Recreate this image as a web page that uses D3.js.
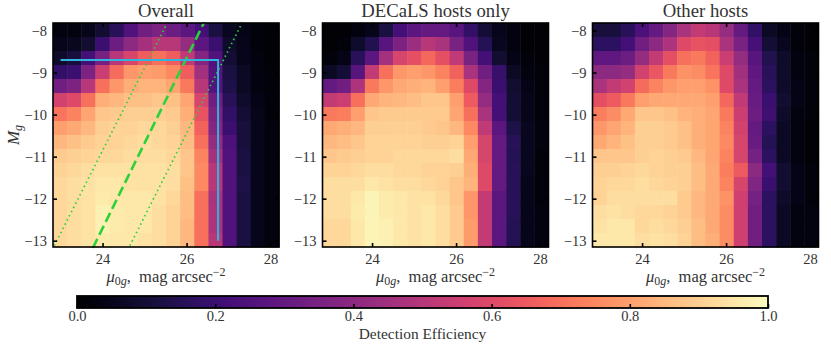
<!DOCTYPE html>
<html>
<head>
<meta charset="utf-8">
<style>
  html, body { margin: 0; padding: 0; background: #fff; }
  text { font-family: "Liberation Serif", serif; fill: #333; }
</style>
<script src="https://cdn.jsdelivr.net/npm/d3@7"></script>
</head>
<body>
<svg id="chart" width="831" height="346"></svg>
<script>
// bin labels: surface brightness columns, magnitude rows (top row first)
var muBins = ["22.97","23.31","23.64","23.98","24.32","24.66","24.99","25.33","25.67","26.01","26.34","26.68","27.02","27.36","27.69","28.03"];
var magBins = ["-7.97","-8.31","-8.64","-8.98","-9.32","-9.66","-9.99","-10.33","-10.67","-11.01","-11.34","-11.68","-12.02","-12.36","-12.69","-13.03"];

var overall = [
  [.03,.03,.05,.09,.16,.25,.33,.36,.32,.28,.22,.12,.06,.04,.02,.01],
  [.05,.06,.09,.2,.32,.4,.46,.5,.5,.42,.28,.2,.08,.05,.02,.01],
  [.08,.11,.22,.34,.5,.58,.66,.7,.66,.52,.38,.25,.1,.05,.03,.01],
  [.18,.2,.36,.55,.69,.78,.8,.79,.75,.66,.45,.26,.12,.07,.03,.02],
  [.33,.36,.5,.7,.78,.83,.84,.84,.81,.72,.5,.26,.13,.07,.03,.02],
  [.57,.6,.7,.83,.85,.87,.87,.88,.87,.81,.58,.33,.16,.08,.04,.02],
  [.71,.74,.81,.88,.89,.9,.9,.9,.89,.83,.63,.36,.18,.1,.05,.02],
  [.8,.82,.85,.9,.91,.91,.92,.92,.9,.85,.67,.38,.2,.11,.05,.03],
  [.85,.87,.89,.91,.91,.92,.93,.92,.91,.86,.7,.42,.24,.11,.05,.03],
  [.89,.9,.91,.92,.92,.93,.93,.93,.92,.88,.74,.46,.25,.12,.05,.03],
  [.91,.92,.93,.94,.94,.94,.94,.94,.93,.88,.75,.5,.25,.12,.05,.03],
  [.92,.93,.94,.95,.95,.94,.94,.94,.93,.87,.75,.5,.25,.13,.05,.03],
  [.92,.93,.94,.96,.95,.95,.95,.94,.92,.86,.7,.47,.25,.12,.05,.03],
  [.92,.93,.94,.97,.96,.95,.95,.93,.91,.86,.7,.48,.25,.12,.05,.03],
  [.92,.93,.94,.97,.96,.95,.95,.93,.91,.85,.7,.48,.25,.12,.05,.03],
  [.92,.93,.94,.96,.95,.95,.94,.93,.91,.85,.7,.5,.25,.12,.05,.03]
];

var decals = [
  [.01,.01,.03,.05,.12,.22,.28,.3,.3,.27,.18,.1,.05,.03,.01,.01],
  [.01,.02,.08,.14,.27,.36,.44,.5,.47,.35,.25,.15,.06,.03,.01,.01],
  [.02,.04,.16,.28,.46,.58,.62,.68,.62,.52,.35,.22,.09,.04,.02,.01],
  [.07,.1,.27,.53,.7,.78,.8,.78,.74,.67,.47,.33,.19,.07,.03,.02],
  [.3,.33,.48,.72,.78,.82,.83,.84,.8,.73,.6,.38,.2,.09,.04,.02],
  [.53,.55,.7,.82,.84,.85,.86,.88,.88,.8,.65,.42,.22,.1,.05,.02],
  [.72,.73,.8,.88,.89,.89,.89,.89,.89,.81,.7,.47,.22,.1,.05,.02],
  [.82,.83,.85,.9,.9,.9,.9,.89,.88,.85,.75,.52,.28,.13,.06,.03],
  [.85,.86,.88,.91,.91,.91,.91,.9,.9,.91,.8,.58,.3,.16,.06,.03],
  [.88,.89,.9,.91,.91,.92,.92,.92,.92,.93,.82,.58,.3,.15,.06,.02],
  [.91,.91,.92,.93,.93,.92,.92,.91,.91,.9,.83,.6,.3,.16,.06,.02],
  [.93,.93,.93,.95,.94,.93,.93,.92,.91,.88,.84,.6,.3,.16,.05,.02],
  [.93,.93,.95,.98,.96,.95,.94,.94,.92,.88,.78,.53,.28,.16,.05,.02],
  [.93,.93,.96,.98,.96,.95,.94,.95,.93,.89,.78,.53,.28,.16,.05,.03],
  [.92,.92,.95,.98,.97,.95,.94,.95,.93,.89,.79,.53,.28,.15,.05,.03],
  [.92,.92,.95,.98,.97,.95,.94,.95,.93,.89,.79,.53,.28,.15,.05,.03]
];

var others = [
  [.11,.11,.16,.24,.3,.38,.47,.53,.5,.42,.3,.18,.07,.04,.02,.01],
  [.17,.17,.22,.33,.4,.48,.6,.63,.62,.47,.35,.23,.1,.06,.02,.01],
  [.29,.29,.32,.42,.53,.62,.7,.72,.67,.55,.42,.27,.14,.08,.03,.02],
  [.4,.4,.42,.57,.64,.72,.77,.76,.71,.6,.45,.29,.16,.08,.03,.02],
  [.47,.53,.57,.69,.74,.78,.8,.8,.77,.6,.47,.3,.17,.08,.04,.02],
  [.62,.65,.72,.8,.82,.82,.82,.82,.8,.68,.52,.31,.2,.09,.04,.02],
  [.73,.76,.82,.88,.88,.87,.84,.83,.81,.72,.55,.32,.21,.08,.03,.02],
  [.78,.81,.84,.9,.9,.89,.87,.83,.81,.74,.57,.3,.17,.07,.03,.01],
  [.82,.84,.87,.9,.9,.89,.87,.83,.81,.75,.58,.31,.15,.07,.03,.01],
  [.88,.88,.88,.9,.91,.9,.89,.85,.81,.74,.58,.34,.17,.07,.03,.01],
  [.9,.9,.91,.92,.91,.9,.9,.86,.82,.73,.65,.4,.22,.09,.04,.02],
  [.91,.92,.92,.93,.92,.91,.9,.86,.82,.74,.58,.37,.2,.09,.04,.02],
  [.91,.93,.93,.93,.93,.93,.89,.85,.82,.77,.56,.34,.17,.08,.04,.02],
  [.93,.94,.93,.92,.92,.91,.89,.85,.82,.76,.56,.33,.17,.07,.03,.03],
  [.94,.95,.95,.92,.93,.92,.9,.86,.82,.76,.56,.33,.17,.07,.03,.03],
  [.95,.95,.95,.93,.94,.93,.91,.86,.83,.76,.56,.33,.17,.07,.03,.03]
];

var titles = ["Overall", "DECaLS hosts only", "Other hosts"];
var panelValues = [overall, decals, others];
var muTicks = [24, 26, 28];
var magTicks = [-8, -9, -10, -11, -12, -13];
var cbarTicks = [0, 0.2, 0.4, 0.6, 0.8, 1];

// overlay lines on the first panel, in data units [mu, Mg]
var completeness = [[23, -8.7], [26.75, -8.7], [26.75, -13]];
var sizeMid = [[23.77, -13.17], [26.42, -7.8]];
var sizeLow = [[22.85, -13.12], [25.55, -7.8]];
var sizeHigh = [[24.65, -13.12], [27.33, -7.8]];

var panelLeft = [53, 322.5, 592.5];
var panelW = 226, panelH = 224, panelTop = 23;

var svg = d3.select("#chart");
var color = d3.scaleSequential(d3.interpolateMagma).domain([0, 1]);

function drawLabel(g, cx, y) {
  var t = g.append("text").attr("x", cx).attr("y", y)
    .attr("text-anchor", "middle").style("font-size", "16.5px");
  t.append("tspan").style("font-style", "italic").text("\u03bc");
  t.append("tspan").attr("dy", 3).style("font-size", "12px").text("0");
  t.append("tspan").style("font-size", "12px").style("font-style", "italic").text("g");
  t.append("tspan").attr("dy", -3).text(",\u00a0\u00a0mag arcsec");
  t.append("tspan").attr("dy", -6).style("font-size", "12px").text("\u22122");
}

panelValues.forEach(function(values, p) {
  var left = panelLeft[p];
  var g = svg.append("g").attr("transform", "translate(" + left + "," + panelTop + ")");

  var xBand = d3.scaleBand().domain(muBins).range([0, panelW]);
  var yBand = d3.scaleBand().domain(magBins).range([0, panelH]);
  var x = d3.scaleLinear().domain([22.82, 28.2]).range([0, panelW]);
  var y = d3.scaleLinear().domain([-7.82, -13.15]).range([0, panelH]);

  values.forEach(function(row, r) {
    g.selectAll(".c" + r)
      .data(row)
      .enter().append("rect")
      .attr("x", function(d, i) { return xBand(muBins[i]); })
      .attr("y", yBand(magBins[r]))
      .attr("width", xBand.bandwidth() + 0.5)
      .attr("height", yBand.bandwidth() + 0.5)
      .attr("fill", function(d) { return color(d); });
  });

  // overlays go on the first panel only
  if (p === 0) {
    var line = d3.line().x(function(d) { return x(d[0]); }).y(function(d) { return y(d[1]); });
    g.append("path").attr("d", line(sizeLow)).attr("fill", "none")
      .attr("stroke", "#2fd13a").attr("stroke-width", 1.7).attr("stroke-dasharray", "1.5,3.2");
    g.append("path").attr("d", line(sizeHigh)).attr("fill", "none")
      .attr("stroke", "#2fd13a").attr("stroke-width", 1.7).attr("stroke-dasharray", "1.5,3.2");
    g.append("path").attr("d", line(sizeMid)).attr("fill", "none")
      .attr("stroke", "#2fd13a").attr("stroke-width", 2.6).attr("stroke-dasharray", "10,4.5");
    g.append("path").attr("d", line(completeness)).attr("fill", "none")
      .attr("stroke", "#2fb4dc").attr("stroke-width", 2);
  }

  // ticks point inward on all four sides
  var bottom = g.append("g").attr("transform", "translate(0," + panelH + ")")
    .call(d3.axisBottom(x).tickValues(muTicks).tickSize(-4).tickPadding(7).tickFormat(d3.format("d")));
  var top = g.append("g")
    .call(d3.axisTop(x).tickValues(muTicks).tickSize(-4).tickFormat(""));
  var leftAxis = g.append("g")
    .call(d3.axisLeft(y).tickValues(magTicks).tickSize(-4).tickPadding(6).tickFormat(function(d) { return "\u2212" + Math.abs(d); }));
  var rightAxis = g.append("g").attr("transform", "translate(" + panelW + ",0)")
    .call(d3.axisRight(y).tickValues(magTicks).tickSize(-4).tickFormat(""));

  [bottom, top, leftAxis, rightAxis].forEach(function(a) {
    a.select(".domain").remove();
    a.selectAll("line").attr("stroke", "#000").attr("stroke-width", 1.6);
    a.selectAll("text").style("font-family", "\"Liberation Serif\", serif").style("font-size", "14.5px").attr("fill", "#333");
  });

  g.append("rect").attr("width", panelW).attr("height", panelH)
    .attr("fill", "none").attr("stroke", "#000").attr("stroke-width", 1.6);

  g.append("text").attr("x", panelW / 2).attr("y", -6)
    .attr("text-anchor", "middle").style("font-size", "18.7px").text(titles[p]);

  drawLabel(g, panelW / 2, panelH + 35);

  if (p === 0) {
    var my = g.append("text").attr("transform", "translate(-34," + (panelH / 2) + ") rotate(-90)")
      .attr("text-anchor", "middle").style("font-size", "17px").style("font-style", "italic");
    my.append("tspan").text("M");
    my.append("tspan").attr("dy", 3).style("font-size", "12px").text("g");
  }
});

// colorbar
var cbLeft = 77, cbW = 691, cbTop = 296, cbH = 12;
var cb = svg.append("g").attr("transform", "translate(" + cbLeft + "," + cbTop + ")");
var cbX = d3.scaleLinear().domain([0, 1]).range([0, cbW]);

var grad = svg.append("defs").append("linearGradient").attr("id", "cbgrad");
grad.selectAll("stop")
  .data(d3.range(0, 1.0001, 0.02))
  .enter().append("stop")
  .attr("offset", function(d) { return d; })
  .attr("stop-color", function(d) { return color(d); });

cb.append("rect").attr("width", cbW).attr("height", cbH).attr("fill", "url(#cbgrad)");

var cbAxis = cb.append("g").attr("transform", "translate(0," + cbH + ")")
  .call(d3.axisBottom(cbX).tickValues(cbarTicks).tickSize(-4).tickPadding(3).tickFormat(d3.format(".1f")));
cbAxis.select(".domain").remove();
cbAxis.selectAll("line").attr("stroke", "#000").attr("stroke-width", 1.6);
cbAxis.selectAll("text").style("font-family", "\"Liberation Serif\", serif").style("font-size", "14.5px").attr("fill", "#333");

cb.append("rect").attr("width", cbW).attr("height", cbH)
  .attr("fill", "none").attr("stroke", "#000").attr("stroke-width", 1.8);

cb.append("text").attr("x", cbW / 2).attr("y", cbH + 31)
  .attr("text-anchor", "middle").style("font-size", "15.4px").text("Detection Efficiency");
</script>
</body>
</html>
